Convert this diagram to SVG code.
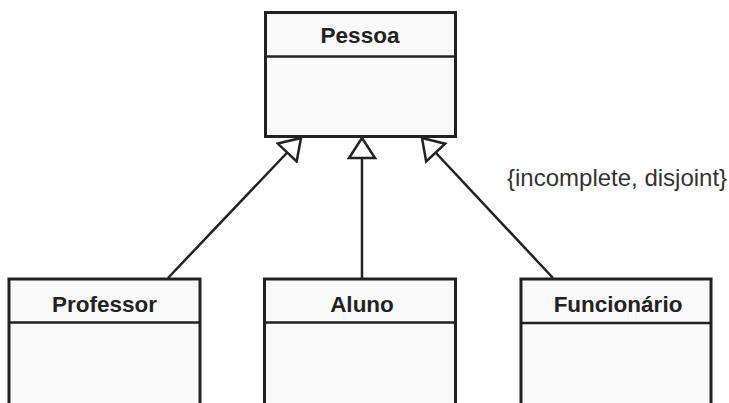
<svg xmlns="http://www.w3.org/2000/svg" width="729" height="403" viewBox="0 0 729 403">
<style>
.box{fill:#fafafa;stroke:#222;stroke-width:3}
.div{stroke:#222;stroke-width:2.5}
.name{font-family:"Liberation Sans",Arial,sans-serif;font-weight:bold;font-size:22.5px;fill:#222;text-anchor:middle}
.edge{stroke:#222;stroke-width:2.5;fill:none;marker-end:url(#gen)}
.note{font-family:"Liberation Sans",Arial,sans-serif;font-size:24px;fill:#333}
</style>
<defs>
<marker id="gen" viewBox="-2 -15 24 30" refX="20" refY="0" markerWidth="24" markerHeight="30" markerUnits="userSpaceOnUse" orient="auto">
<path d="M0,-13 L20,0 L0,13 Z" fill="#fff" stroke="#222" stroke-width="2.5" stroke-linejoin="miter"/>
</marker>
</defs>
<rect width="729" height="403" fill="#fff"/>
<g id="connectors">
<line class="edge" x1="168" y1="278" x2="301" y2="138"/>
<line class="edge" x1="362" y1="278" x2="362" y2="138"/>
<line class="edge" x1="553" y1="278" x2="422" y2="138"/>
</g>
<g id="pessoa">
<rect class="box" x="265.5" y="12.5" width="190" height="124"/>
<line class="div" x1="265.5" y1="56.5" x2="455.5" y2="56.5"/>
<text class="name" x="360" y="43">Pessoa</text>
</g>
<g id="professor">
<rect class="box" x="9" y="279" width="191" height="140"/>
<line class="div" x1="9" y1="322.5" x2="200" y2="322.5"/>
<text class="name" x="104.5" y="311.5">Professor</text>
</g>
<g id="aluno">
<rect class="box" x="264.5" y="279" width="191" height="140"/>
<line class="div" x1="264.5" y1="322.5" x2="455.5" y2="322.5"/>
<text class="name" x="362" y="311.5">Aluno</text>
</g>
<g id="funcionario">
<rect class="box" x="521" y="279" width="190" height="140"/>
<line class="div" x1="521" y1="323" x2="711" y2="323"/>
<text class="name" x="618" y="311.5">Funcionário</text>
</g>
<text class="note" x="507" y="186">{incomplete, disjoint}</text>
</svg>
